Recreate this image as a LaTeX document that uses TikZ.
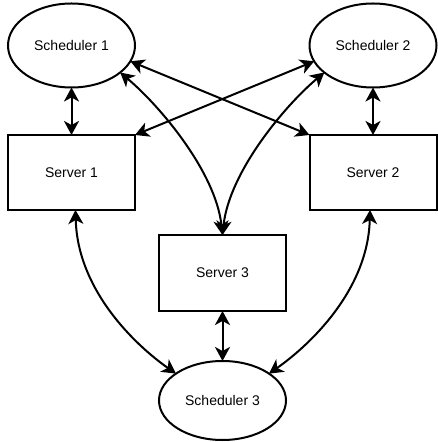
\documentclass[tikz,border=0pt]{standalone}
\usepackage{fontspec}
\setmainfont{Liberation Sans}
\usetikzlibrary{arrows.meta,shapes.geometric}
\begin{document}
\begin{tikzpicture}[x=1pt,y=1pt,
  every node/.style={font=\fontsize{14}{16}\selectfont},
  sched/.style={ellipse,draw,line width=2pt,inner sep=0pt,outer sep=0pt,minimum width=127pt,minimum height=84pt},
  srvbox/.style={rectangle,draw,line width=2pt,inner sep=0pt,outer sep=0pt,minimum width=127pt,minimum height=75pt},
  tip/.style={Stealth[length=14pt,width=15pt,inset=4pt]},
  link/.style={line width=2pt,{Stealth[length=14pt,width=15pt,inset=4pt]}-{Stealth[length=14pt,width=15pt,inset=4pt]}}]
\useasboundingbox (0,0) rectangle (437,442);
\node[sched] (sch1) at (71.5,396.5) {Scheduler 1};
\node[sched] (sch2) at (373,396.5) {Scheduler 2};
\node[srvbox] (srv1) at (71.5,269.5) {Server 1};
\node[srvbox] (srv2) at (373,269.5) {Server 2};
\node[srvbox,minimum height=76pt] (srv3) at (222.5,169) {Server 3};
\node[sched,minimum height=79pt] (sch3) at (222.5,41.5) {Scheduler 3};
% vertical links
\draw[link] (sch1.south) -- (srv1.north);
\draw[link] (sch2.south) -- (srv2.north);
\draw[link] (srv3.south) -- (sch3.north);
% straight crossing links
\draw[link] (sch1.-15) -- (srv2.north west);
\draw[link] (sch2.-165) -- (srv1.north east);
% curved links to server 3
\draw[link] (sch1.-29) .. controls +(-40:52) and +(96:63) .. (srv3.north);
\draw[link] (sch2.-151) .. controls +(-140:52) and +(84:63) .. (srv3.north);
% curved links to scheduler 3
\draw[link] ([xshift=4pt]srv1.south) .. controls +(-88.6:80) and +(145:50) .. (sch3.150);
\draw[link] ([xshift=-3pt]srv2.south) .. controls +(-91.4:80) and +(35:50) .. (sch3.30);
\end{tikzpicture}
\end{document}
